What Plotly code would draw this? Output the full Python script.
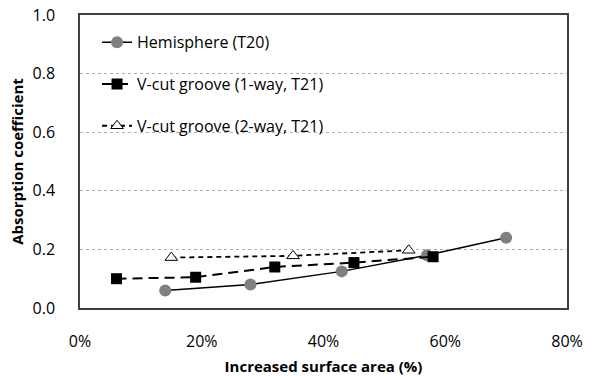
import plotly.graph_objects as go

hemi_x = [0.14, 0.28, 0.43, 0.57, 0.70]
hemi_y = [0.06, 0.08, 0.125, 0.18, 0.24]
one_x = [0.06, 0.19, 0.32, 0.45, 0.58]
one_y = [0.10, 0.105, 0.14, 0.155, 0.175]
two_x = [0.15, 0.35, 0.54]
two_y = [0.172, 0.178, 0.197]
names = ["Hemisphere (T20)", "V-cut groove (1-way, T21)", "V-cut groove (2-way, T21)"]
x_ticks = [0, 0.2, 0.4, 0.6, 0.8]
y_ticks = [0, 0.2, 0.4, 0.6, 0.8, 1.0]

fig = go.Figure()
fig.add_trace(go.Scatter(x=hemi_x, y=hemi_y, name=names[0], mode="lines+markers",
                         line=dict(color="black", width=1.5),
                         marker=dict(symbol="circle", size=12, color="#808080"),
                         legendgroup="a"))
fig.add_trace(go.Scatter(x=one_x, y=one_y, name=names[1], mode="lines+markers",
                         line=dict(color="black", width=2, dash="10px,6px"),
                         marker=dict(symbol="square", size=11, color="black"),
                         legendgroup="b"))
fig.add_trace(go.Scatter(x=two_x, y=two_y, name=names[2], mode="lines+markers",
                         line=dict(color="black", width=1.8, dash="5px,4px"),
                         marker=dict(symbol="triangle-up", size=11, color="white",
                                     line=dict(color="black", width=1)),
                         legendgroup="c"))

fig.update_layout(
    width=602, height=376,
    margin=dict(l=80, r=35, t=15, b=68),
    paper_bgcolor="white", plot_bgcolor="white",
    font=dict(family="Open Sans", size=15, color="black"),
    legend=dict(x=0.035, y=0.965, xanchor="left", yanchor="top",
                bgcolor="rgba(0,0,0,0)", tracegroupgap=18,
                font=dict(size=16), traceorder="grouped"),
    xaxis=dict(range=[0, 0.8], tickvals=x_ticks, tickformat=".0%",
               showgrid=False, zeroline=False, showline=True, mirror=True,
               linecolor="#404040", linewidth=1.5, automargin=False,
               ticks="outside", ticklen=18, tickcolor="rgba(0,0,0,0)",
               tickfont=dict(size=16), ticklabeloverflow="allow",
               title=dict(text="<b>Increased surface area (%)</b>", font=dict(size=15), standoff=12)),
    yaxis=dict(range=[0, 1.0], tickvals=y_ticks, tickformat=".1f",
               showgrid=True, gridcolor="#b0b0b0", griddash="dot", gridwidth=1,
               zeroline=False, showline=True, mirror=True,
               linecolor="#404040", linewidth=1.5, automargin=False,
               ticks="outside", ticklen=20, tickcolor="rgba(0,0,0,0)",
               tickfont=dict(size=16), ticklabeloverflow="allow",
               title=dict(text="<b>Absorption coefficient</b>", font=dict(size=15), standoff=5)),
)

fig.write_html("out.html", config={"displayModeBar": False},
               post_script="document.body.style.margin='0';")
